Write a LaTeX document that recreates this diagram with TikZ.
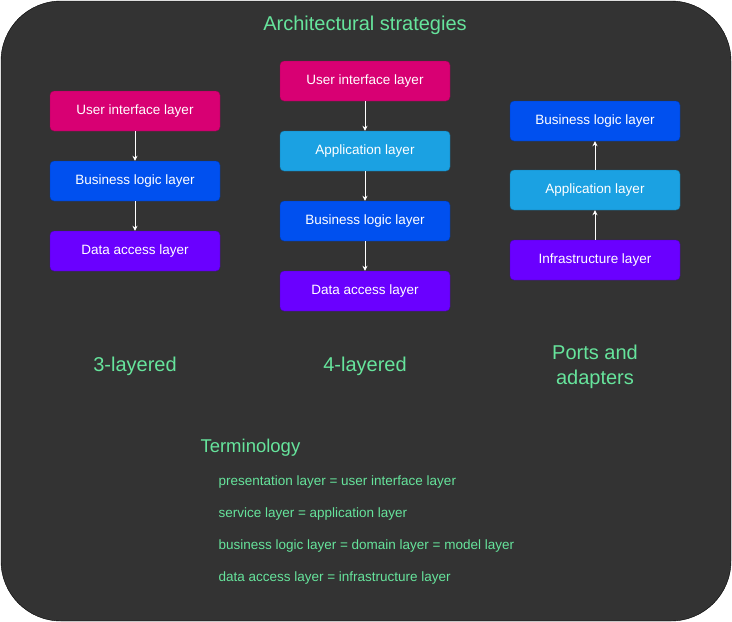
\documentclass[tikz,border=0pt]{standalone}
\usepackage{fontspec}
\setmainfont{Liberation Sans}
\usetikzlibrary{arrows.meta}
\definecolor{bg}{HTML}{333333}
\definecolor{grn}{HTML}{66E49C}
\definecolor{pinkc}{HTML}{D80073}
\definecolor{bluec}{HTML}{0050EF}
\definecolor{lbluec}{HTML}{1BA1E2}
\definecolor{purc}{HTML}{6A00FF}
\begin{document}
\begin{tikzpicture}[x=1pt,y=-1pt,
 box/.style={draw=#1!70!black,fill=#1,rounded corners=4pt,minimum width=170pt,minimum height=40pt,text=white,font=\fontsize{13.5}{15}\selectfont,inner sep=0pt},
 arr/.style={draw=white,-{Stealth[length=5pt,width=5pt]},line width=0.8pt},
 lab/.style={text=grn,font=\fontsize{20}{25}\selectfont,align=center},
 term/.style={text=grn,font=\fontsize{13.5}{15}\selectfont,anchor=west}]
\useasboundingbox (0,0) rectangle (732,622);
\draw[fill=bg,draw=black,rounded corners=60pt] (1,1) rectangle (731,621);
\node[lab] (title) at (365,25) {Architectural strategies};
% col 1
\node[box=pinkc] (a1) at (135,111) {User interface layer};
\node[box=bluec] (a2) at (135,181) {Business logic layer};
\node[box=purc] (a3) at (135,251) {Data access layer};
\draw[arr] (a1) -- (a2); \draw[arr] (a2) -- (a3);
% col 2
\node[box=pinkc] (b1) at (365,81) {User interface layer};
\node[box=lbluec] (b2) at (365,151) {Application layer};
\node[box=bluec] (b3) at (365,221) {Business logic layer};
\node[box=purc] (b4) at (365,291) {Data access layer};
\draw[arr] (b1) -- (b2); \draw[arr] (b2) -- (b3); \draw[arr] (b3) -- (b4);
% col 3
\node[box=bluec] (c1) at (595,121) {Business logic layer};
\node[box=lbluec] (c2) at (595,190) {Application layer};
\node[box=purc] (c3) at (595,260) {Infrastructure layer};
\draw[arr] (c3) -- (c2); \draw[arr] (c2) -- (c1);
\node[lab] (l1) at (135,366) {3-layered};
\node[lab] (l2) at (365,366) {4-layered};
\node[lab] (l3) at (595,367) {Ports and\\adapters};
\node[lab,anchor=west,font=\fontsize{18.5}{22}\selectfont] (t) at (197,448) {Terminology};
\node[term] (t1) at (215,482) {presentation layer = user interface layer};
\node[term] (t2) at (215,514) {service layer = application layer};
\node[term] (t3) at (215,546) {business logic layer = domain layer = model layer};
\node[term] (t4) at (215,578) {data access layer = infrastructure layer};
\end{tikzpicture}
\end{document}
